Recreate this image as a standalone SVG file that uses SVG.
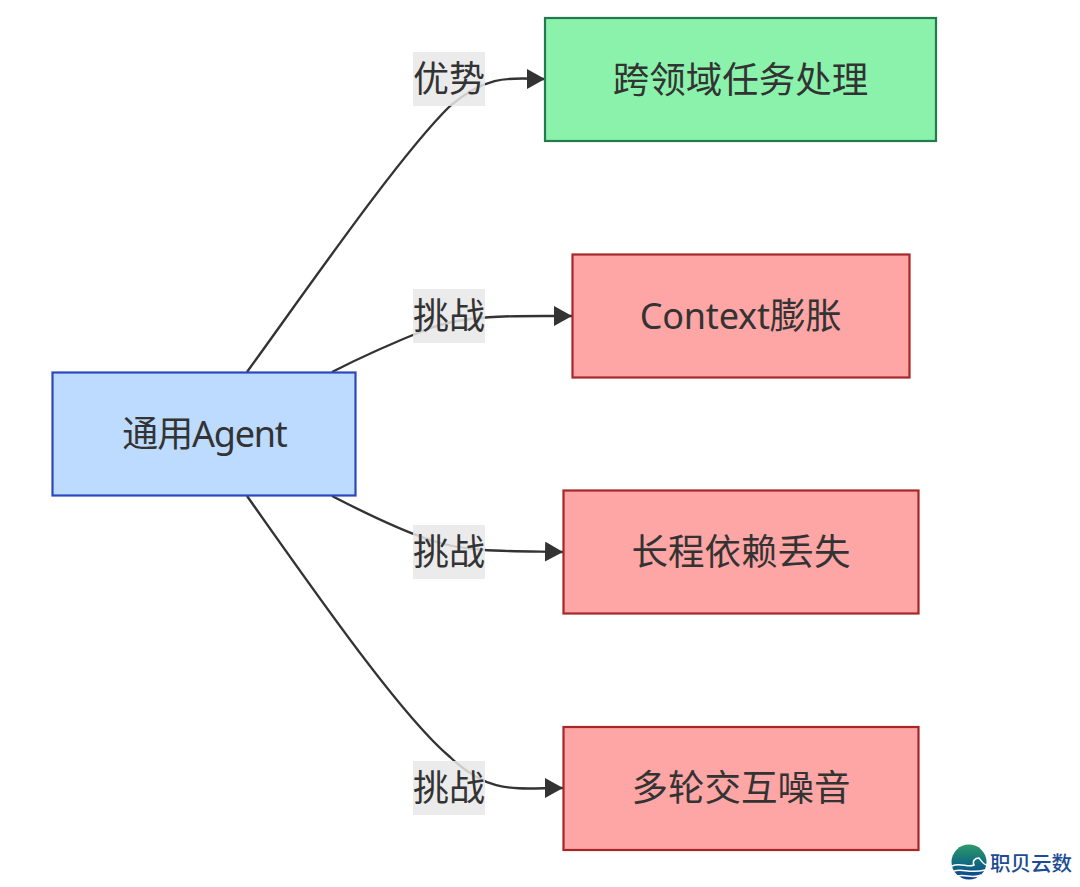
<svg xmlns="http://www.w3.org/2000/svg" width="1080" height="887" viewBox="0 0 1080 887">
<style>
text{font-family:"Noto Sans","Noto Sans CJK SC",sans-serif;font-size:36px;fill:#333;text-anchor:middle;dominant-baseline:central}
.t{font-size:36.500px}
.n{stroke-width:2.2}
.blue{fill:#bddbff;stroke:#2a48bd}
.green{fill:#8af2ab;stroke:#237a4c}
.red{fill:#fea5a5;stroke:#a82626}
.e{fill:none;stroke:#333;stroke-width:2.4}
.lb{fill:#e8e8e8;fill-opacity:.85}
</style>
<defs><marker id="a" markerUnits="userSpaceOnUse" markerWidth="18" markerHeight="20" refX="18" refY="10" orient="auto"><path d="M0,0L18,10L0,20Z" fill="#333"/></marker></defs>
<rect width="1080" height="887" fill="#fff"/>
<g id="connectors">
<path class="e" marker-end="url(#a)" d="M247,372C310,285 400,155 450,106C490,72 515,79 545,79"/>
<path class="e" marker-end="url(#a)" d="M332,372C365,355 400,340 430,328C470,314 520,316 572,316"/>
<path class="e" marker-end="url(#a)" d="M332,496C365,513 400,530 430,540C465,553 520,551 563,552"/>
<path class="e" marker-end="url(#a)" d="M247,496C310,585 400,715 450,757C490,795 515,788 563,788"/>
</g>
<g id="label-1"><rect class="lb" x="413" y="52" width="72" height="54"/><text x="449" y="78">优势</text></g>
<g id="label-2"><rect class="lb" x="413" y="289" width="72" height="54"/><text x="449" y="315">挑战</text></g>
<g id="label-3"><rect class="lb" x="413" y="525" width="72" height="54"/><text x="449" y="551">挑战</text></g>
<g id="label-4"><rect class="lb" x="413" y="761" width="72" height="54"/><text x="449" y="787">挑战</text></g>
<g id="node-agent"><rect class="n blue" x="52.500" y="372.500" width="303" height="123"/><text x="204.500" y="433" style="letter-spacing:-1.200px">通用Agent</text></g>
<g id="node-cross"><rect class="n green" x="545" y="18" width="391" height="123"/><text class="t" x="740.500" y="79">跨领域任务处理</text></g>
<g id="node-context"><rect class="n red" x="572.500" y="254.500" width="337" height="123"/><text x="740.500" y="315" style="letter-spacing:-.2px">Context膨胀</text></g>
<g id="node-long"><rect class="n red" x="563.500" y="490.500" width="355" height="123"/><text class="t" x="741" y="551">长程依赖丢失</text></g>
<g id="node-noise"><rect class="n red" x="563.500" y="727" width="355" height="123"/><text class="t" x="741" y="787">多轮交互噪音</text></g>
<g id="logo">
<defs><linearGradient id="g" x1="0" y1="0" x2="0" y2="1"><stop offset="0" stop-color="#2f9a6a"/><stop offset=".55" stop-color="#0f6a80"/><stop offset="1" stop-color="#123f8f"/></linearGradient></defs>
<circle cx="969" cy="862" r="17.500" fill="url(#g)"/>
<path d="M952,866C960,862 968,868 974,865C972,861 975,858 979,858C982,862 984,865 987,865M954,871C962,868 970,874 985,870M958,876C965,874 972,879 981,875" fill="none" stroke="#fff" stroke-width="1.500"/>
<text x="1031" y="862" style="font-size:20.500px;fill:#1c4c94;font-weight:500;font-family:'Noto Sans CJK SC',sans-serif">职贝云数</text>
</g>
</svg>
